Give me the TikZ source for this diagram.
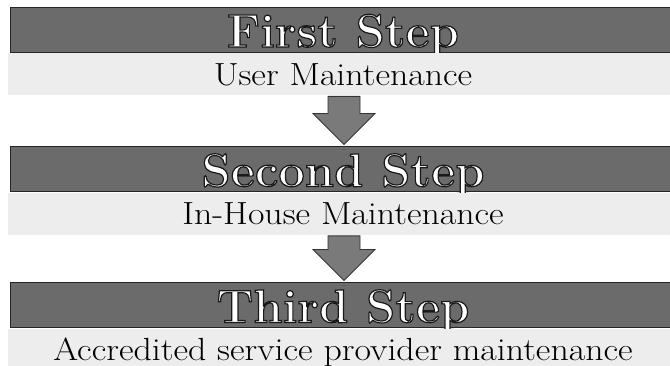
\documentclass[tikz,border=0pt]{standalone}
\usetikzlibrary{calc,positioning}

\definecolor{bandgray}{gray}{0.42}
\definecolor{palegray}{gray}{0.93}
\definecolor{arrowgray}{gray}{0.48}
% white letters with a dark rim
\newcommand{\hollow}[1]{\special{pdf:literal direct 2 Tr 1.2 w 0.1 G}#1\special{pdf:literal direct 0 Tr}}
\newcommand{\wide}[1]{\scalebox{1.12}[1]{#1}}

\tikzset{
  darkband/.style={fill=bandgray,draw=black!85,line width=1pt,minimum width=666pt,minimum height=45pt,inner sep=0pt,
    text=white,font=\bfseries\fontsize{47}{47}\selectfont,text height=34pt,text depth=0pt},
  paleband/.style={fill=palegray,minimum width=670pt,minimum height=42pt,inner sep=0pt,
    font=\fontsize{32}{32}\selectfont,text height=22pt,text depth=0pt},
  blockarrow/.style={fill=arrowgray,draw=black!80,line width=0.8pt,line join=miter}
}

\begin{document}
\begin{tikzpicture}[x=1pt,y=1pt]
  \useasboundingbox (0,0) rectangle (670,366);
  \node[darkband] (step1) at (343,336) {\hollow{First Step}};
  \node[paleband,below=0pt of step1.south,anchor=north] (sub1) {\wide{User Maintenance}};
  \node[darkband] (step2) at (343,196.5) {\hollow{Second Step}};
  \node[paleband,below=0pt of step2.south,anchor=north] (sub2) {\wide{In-House Maintenance}};
  \node[darkband] (step3) at (343,60.5) {\hollow{Third Step}};
  \node[paleband,below=0pt of step3.south,anchor=north] (sub3) {\wide{Accredited service provider maintenance}};
  \foreach \a/\b in {sub1/step2,sub2/step3}
    \draw[blockarrow] let \p1=($(\a.south)+(1,-1)$), \p2=($(\b.north)+(1,2)$) in
      (\x1-16pt,\y1) -- (\x1+16pt,\y1) -- (\x1+16pt,\y2+31pt) -- (\x1+31pt,\y2+31pt)
      -- (\x1,\y2) -- (\x1-31pt,\y2+31pt) -- (\x1-16pt,\y2+31pt) -- cycle;
\end{tikzpicture}
\end{document}
